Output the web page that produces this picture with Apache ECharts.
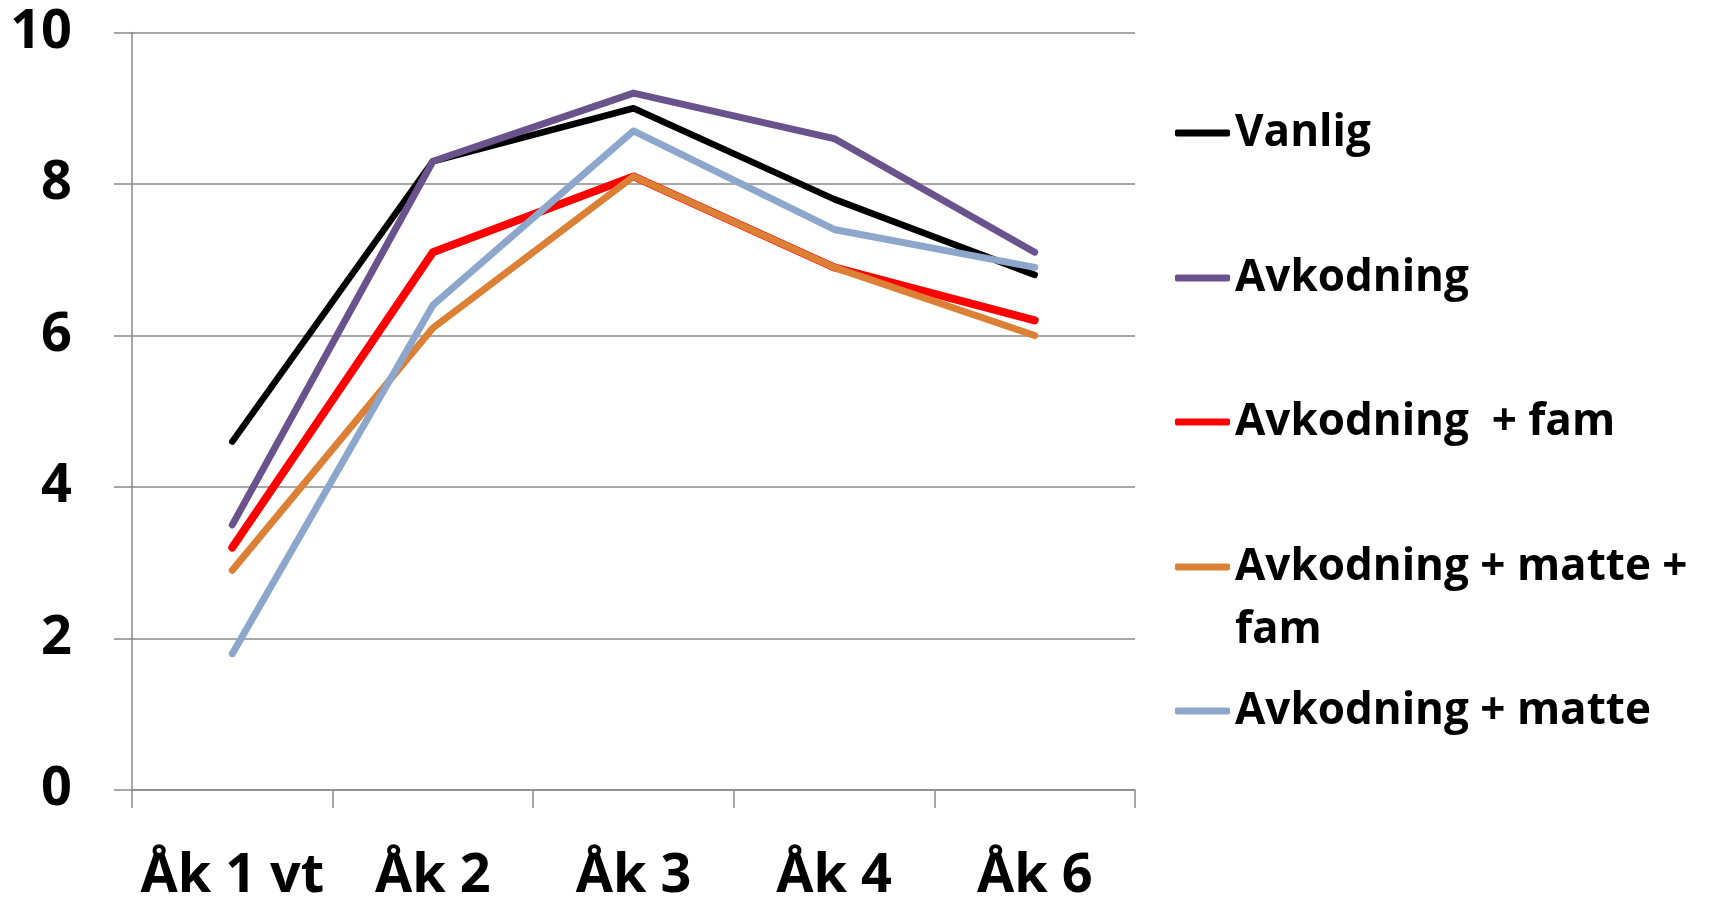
<!DOCTYPE html>
<html>
<head>
<meta charset="utf-8">
<script src="https://cdn.jsdelivr.net/npm/echarts@6/dist/echarts.min.js"></script>
<style>
html,body{margin:0;padding:0;background:#fff;}
#chart{width:1709px;height:904px;}
</style>
</head>
<body>
<div id="chart"></div>
<script>
const categories = ['Åk 1 vt', 'Åk 2', 'Åk 3', 'Åk 4', 'Åk 6'];
const seriesNames = ['Vanlig', 'Avkodning', 'Avkodning  + fam', 'Avkodning + matte +\nfam', 'Avkodning + matte'];
const vanlig = [4.6, 8.3, 9.0, 7.8, 6.8];
const avkodning = [3.5, 8.3, 9.2, 8.6, 7.1];
const avkodningFam = [3.2, 7.1, 8.1, 6.9, 6.2];
const avkodningMatteFam = [2.9, 6.1, 8.1, 6.9, 6.0];
const avkodningMatte = [1.8, 6.4, 8.7, 7.4, 6.9];
const yTicks = [0, 2, 4, 6, 8, 10];

const colors = ['#000000', '#6A528C', '#FF0000', '#DC8036', '#8DA7CC'];
const widths = [6.5, 7, 8, 7, 7];
const dataSets = [vanlig, avkodning, avkodningFam, avkodningMatteFam, avkodningMatte];
const FONT = "'Open Sans', 'Noto Sans', sans-serif";
const LH = 63;
const centers = [133, 278, 422, 567, 711];

const legends = seriesNames.map((n, i) => {
  const twoLine = n.indexOf('\n') >= 0;
  return {
    data: [n],
    orient: 'vertical',
    left: 1175,
    top: twoLine ? centers[i] - 1.5 * LH : centers[i] - LH / 2,
    icon: 'roundRect',
    itemWidth: 55,
    itemHeight: 7,
    padding: 0,
    selectedMode: false,
    formatter: name => (twoLine ? '\n' + name : name),
    textStyle: {
      fontFamily: FONT, fontWeight: 'bold', fontSize: 44, color: '#000',
      lineHeight: LH
    }
  };
});

const gray = '#8a8a8a';
const chart = echarts.init(document.getElementById('chart'));
chart.setOption({
  animation: false,
  backgroundColor: '#fff',
  legend: legends,
  grid: { left: 132, right: 574, top: 32.5, bottom: 110.5, containLabel: false },
  xAxis: {
    type: 'category',
    data: categories,
    boundaryGap: true,
    axisLine: { show: true, lineStyle: { color: gray, width: 1.5 } },
    axisTick: { show: true, interval: 0, length: 18, alignWithLabel: false, lineStyle: { color: gray, width: 1.5 } },
    axisLabel: { interval: 0, fontFamily: FONT, fontWeight: 'bold', fontSize: 54, color: '#000', margin: 60 },
    splitLine: { show: false }
  },
  yAxis: {
    type: 'value',
    min: 0, max: 10, interval: 2,
    axisLine: { show: true, lineStyle: { color: gray, width: 1.5 } },
    axisTick: { show: true, length: 18, lineStyle: { color: gray, width: 1.5 } },
    axisLabel: {
      fontFamily: FONT, fontWeight: 'bold', fontSize: 54, color: '#000', margin: 60,
      formatter: v => (yTicks.indexOf(v) >= 0 ? String(v) : '')
    },
    splitLine: { show: true, lineStyle: { color: gray, width: 1.5 } }
  },
  series: seriesNames.map((n, i) => ({
    name: n,
    type: 'line',
    data: dataSets[i],
    symbol: 'none',
    color: colors[i],
    lineStyle: { color: colors[i], width: widths[i], cap: 'round', join: 'round' },
    itemStyle: { color: colors[i] }
  }))
});
</script>
</body>
</html>
